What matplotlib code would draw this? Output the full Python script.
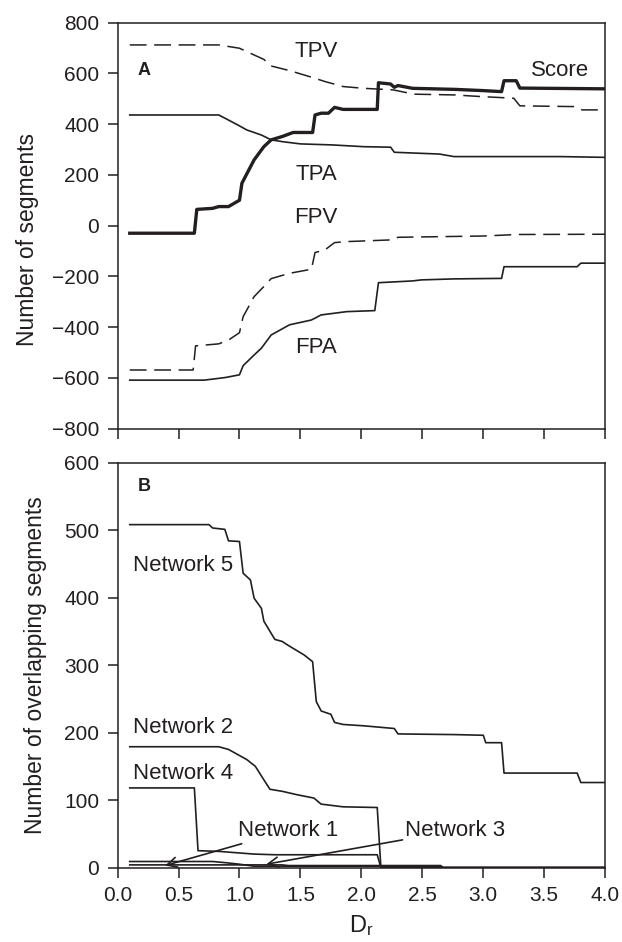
import numpy as np
import matplotlib.pyplot as plt

plt.rcParams['font.family'] = ['Liberation Sans', 'DejaVu Sans']
plt.rcParams['mathtext.default'] = 'regular'

ink = '#231f20'

# ---- panel A data ----
score_x = [0.10, 0.63, 0.65, 0.78, 0.83, 0.91, 1.00, 1.02, 1.12, 1.20, 1.26, 1.35, 1.44, 1.60, 1.62,
           1.67, 1.73, 1.78, 1.85, 2.13, 2.14, 2.24, 2.27, 2.30, 2.42, 2.76, 3.00, 3.15, 3.17, 3.27,
           3.30, 4.00]
score_y = [-30, -30, 64, 68, 75, 75, 100, 167, 259, 311, 338, 351, 367, 367, 436,
           443, 443, 466, 458, 458, 563, 558, 545, 552, 541, 537, 532, 528, 571, 571,
           542, 539]

tpv_x = [0.10, 0.83, 1.00, 1.09, 1.20, 1.26, 1.41, 1.59, 1.70, 1.85, 2.02, 2.26, 2.43, 2.76, 3.00,
         3.25, 3.30, 3.75, 3.81, 4.00]
tpv_y = [712, 712, 699, 679, 655, 629, 611, 585, 568, 548, 541, 535, 518, 515, 508,
         502, 472, 469, 456, 456]

tpa_x = [0.10, 0.83, 0.91, 1.00, 1.06, 1.18, 1.26, 1.35, 1.50, 1.76, 2.02, 2.24, 2.27, 2.64, 2.76,
         3.63, 4.00]
tpa_y = [436, 436, 416, 393, 377, 357, 338, 331, 322, 318, 311, 309, 289, 282, 272,
         272, 269]

fpv_x = [0.10, 0.62, 0.64, 0.83, 0.91, 1.00, 1.03, 1.12, 1.20, 1.26, 1.41, 1.59, 1.62, 1.70, 1.78,
         1.88, 2.26, 2.30, 3.00, 3.28, 4.00]
fpv_y = [-569, -569, -474, -466, -451, -422, -359, -280, -240, -209, -188, -172, -106, -96, -67,
         -63, -56, -46, -41, -35, -34]

fpa_x = [0.10, 0.71, 0.88, 1.00, 1.03, 1.12, 1.18, 1.26, 1.41, 1.59, 1.67, 1.88, 2.11, 2.14, 2.42,
         2.49, 2.76, 3.15, 3.17, 3.77, 3.80, 4.00]
fpa_y = [-609, -609, -599, -588, -552, -510, -483, -431, -391, -372, -352, -339, -335, -225, -218,
         -214, -210, -208, -162, -162, -148, -148]

# ---- panel B data ----
net5_x = [0.10, 0.75, 0.78, 0.88, 0.91, 1.00, 1.03, 1.09, 1.12, 1.18, 1.20, 1.29, 1.35, 1.41, 1.53,
          1.60, 1.63, 1.67, 1.75, 1.78, 1.85, 2.02, 2.27, 2.30, 2.76, 3.00, 3.02, 3.15, 3.17, 3.77,
          3.80, 4.00]
net5_y = [508, 508, 503, 501, 484, 483, 436, 426, 399, 384, 365, 338, 335, 328, 315,
          305, 246, 232, 227, 215, 212, 210, 206, 198, 197, 196, 185, 185, 140, 140,
          126, 126]

net2_x = [0.10, 0.83, 0.91, 0.97, 1.06, 1.13, 1.20, 1.25, 1.35, 1.47, 1.61, 1.67, 1.85, 2.13, 2.16, 4.00]
net2_y = [179, 179, 175, 169, 160, 150, 130, 116, 113, 108, 103, 94, 90, 89, 0, 0]

net4_x = [0.10, 0.63, 0.66, 0.83, 1.12, 1.29, 2.13, 2.16, 4.00]
net4_y = [118, 118, 25, 24, 20, 19, 19, 0, 0]

net1_x = [0.10, 0.78, 0.90, 1.00, 1.12, 2.65, 2.67, 4.00]
net1_y = [9, 9, 7, 5, 2, 2, 0, 0]

net3_x = [0.10, 1.35, 1.40, 2.65, 2.67, 4.00]
net3_y = [4, 4, 3, 3, 0, 0]

fig = plt.figure(figsize=(6.22, 9.42), dpi=100)
axA = fig.add_axes([0.189, 0.545, 0.784, 0.431])
axB = fig.add_axes([0.189, 0.079, 0.784, 0.430])

fs = 16
dash = (0, (11, 5))
axA.plot(tpv_x, tpv_y, color=ink, lw=1.1, linestyle=dash)
axA.plot(fpv_x, fpv_y, color=ink, lw=1.1, linestyle=dash)
axA.plot(tpa_x, tpa_y, color=ink, lw=1.2)
axA.plot(fpa_x, fpa_y, color=ink, lw=1.2)
axA.plot(score_x, score_y, color=ink, lw=2.4)

lab = dict(fontsize=fs, color=ink, ha='center', va='center')
axA.text(1.63, 686, 'TPV', **lab)
axA.text(1.63, 200, 'TPA', **lab)
axA.text(1.63, 30, 'FPV', **lab)
axA.text(1.63, -481, 'FPA', **lab)
axA.text(3.63, 611, 'Score', **lab)
axA.text(0.22, 613, 'A', fontsize=13, fontweight='bold', color=ink, ha='center', va='center')

axA.set_xlim(0, 4)
axA.set_ylim(-800, 800)
axA.set_yticks(np.arange(-800, 801, 200))
axA.set_xticks(np.arange(0, 4.01, 0.5))
axA.set_xticklabels([])
axA.set_ylabel('Number of segments', fontsize=16.5, color=ink)
axA.yaxis.set_label_coords(-0.162, 0.465)

for xs, ys in [(net5_x, net5_y), (net2_x, net2_y), (net4_x, net4_y), (net1_x, net1_y), (net3_x, net3_y)]:
    axB.plot(xs, ys, color=ink, lw=1.2)

axB.text(0.13, 448, 'Network 5', fontsize=fs, color=ink, ha='left', va='center')
axB.text(0.13, 208, 'Network 2', fontsize=fs, color=ink, ha='left', va='center')
axB.text(0.13, 140, 'Network 4', fontsize=fs, color=ink, ha='left', va='center')
axB.text(0.22, 565, 'B', fontsize=13, fontweight='bold', color=ink, ha='center', va='center')

arrow = dict(arrowstyle='->', color=ink, lw=1.2, shrinkA=0, shrinkB=0, mutation_scale=18)
axB.annotate('Network 1', xy=(0.39, 3), xytext=(0.99, 55), fontsize=fs, color=ink,
             ha='left', va='center', arrowprops=arrow)
axB.annotate('Network 3', xy=(1.22, 5), xytext=(2.36, 55), fontsize=fs, color=ink,
             ha='left', va='center', arrowprops=arrow)

axB.set_xlim(0, 4)
axB.set_ylim(0, 600)
axB.set_yticks(np.arange(0, 601, 100))
axB.set_xticks(np.arange(0, 4.01, 0.5))
axB.set_xticklabels([f'{v:.1f}' for v in np.arange(0, 4.01, 0.5)])
axB.set_xlabel('D$_r$', fontsize=17, color=ink, labelpad=6)
axB.set_ylabel('Number of overlapping segments', fontsize=16.5, color=ink)
axB.yaxis.set_label_coords(-0.145, 0.5)

for ax in (axA, axB):
    ax.tick_params(direction='out', length=7.2, width=1.1, pad=6, labelsize=15, colors=ink,
                   top=False, right=False)
    for s in ax.spines.values():
        s.set_color(ink)
        s.set_linewidth(1.1)

fig.savefig('out.png', dpi=100)
